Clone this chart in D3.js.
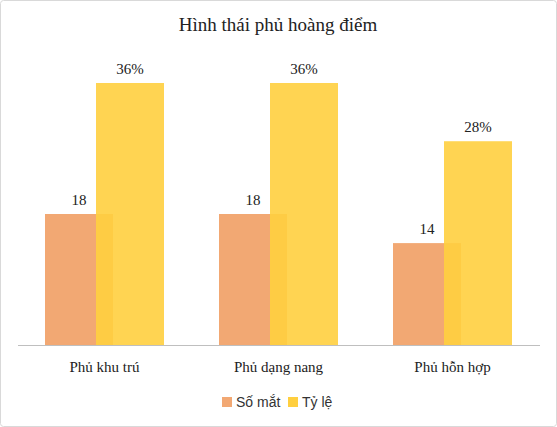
<!DOCTYPE html>
<html><head><meta charset="utf-8">
<script src="https://cdn.jsdelivr.net/npm/d3@7"></script>
<style>body{margin:0;background:#fff}</style></head>
<body><svg id="c" width="557" height="427"></svg>
<script>
const categories = ["Phủ khu trú","Phủ dạng nang","Phủ hỗn hợp"];
const soMat = [18,18,14];
const tyLe = [36,36,28];
const seriesNames = ["Số mắt","Tỷ lệ"];
const svg = d3.select("#c");
svg.append("rect").attr("x",0.5).attr("y",0.5).attr("width",556).attr("height",426).attr("rx",3)
  .attr("fill","#fff").attr("stroke","#d9d9d9");
const x = d3.scalePoint().domain(categories).range([104.5,452.5]);
const y = d3.scaleLinear().domain([0,36]).range([345,83]);
const bw = 68;
const serif = "'Liberation Serif','Times New Roman',serif";
svg.append("text").attr("x",278).attr("y",31).attr("text-anchor","middle")
  .attr("font-family",serif).attr("font-size",19).attr("fill","#222").text("Hình thái phủ hoàng điểm");
const g = svg.append("g");
categories.forEach((c,i)=>{
  const cx = x(c);
  g.append("rect").attr("x",cx-59.5).attr("y",y(soMat[i])).attr("width",bw).attr("height",y(0)-y(soMat[i])).attr("fill","#F2A873");
  g.append("rect").attr("x",cx-8.5).attr("y",y(tyLe[i])).attr("width",bw).attr("height",y(0)-y(tyLe[i])).attr("fill","#FFCF3F").attr("opacity",0.9);
  g.append("text").attr("x",cx-25.5).attr("y",y(soMat[i])-9).attr("text-anchor","middle").attr("font-family",serif).attr("font-size",15).attr("fill","#222").text(soMat[i]);
  g.append("text").attr("x",cx+25.5).attr("y",y(tyLe[i])-9).attr("text-anchor","middle").attr("font-family",serif).attr("font-size",15).attr("fill","#222").text(tyLe[i]+"%");
  g.append("text").attr("x",cx).attr("y",372).attr("text-anchor","middle").attr("font-family",serif).attr("font-size",15).attr("fill","#222").text(c);
});
svg.append("line").attr("x1",18).attr("x2",540).attr("y1",345.5).attr("y2",345.5).attr("stroke","#bfbfbf");
const leg = [{n:seriesNames[0],c:"#F2A873",x:222},{n:seriesNames[1],c:"#FFCF3F",x:288}];
leg.forEach(l=>{
  svg.append("rect").attr("x",l.x).attr("y",397).attr("width",10).attr("height",10).attr("fill",l.c);
  svg.append("text").attr("x",l.x+14).attr("y",407).attr("font-family","'Liberation Sans',Arial,sans-serif").attr("font-size",14).attr("fill","#333").text(l.n);
});
</script></body></html>
